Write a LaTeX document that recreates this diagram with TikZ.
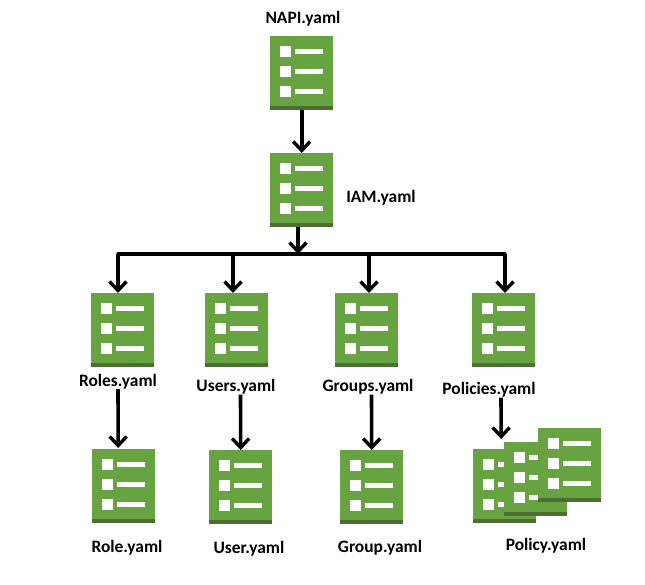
\documentclass[tikz,border=0pt]{standalone}
\usepackage{fontspec}
\setmainfont{Carlito}
\usetikzlibrary{arrows.meta}
\definecolor{iconGreen}{HTML}{67A340}
\definecolor{iconDark}{HTML}{4C6E33}
\tikzset{
  iconbox/.style={anchor=north west,fill=iconGreen,draw=none,inner sep=0pt,minimum width=63pt,minimum height=74pt},
  iconband/.style={fill=iconDark,draw=none},
  iconmark/.style={fill=white,draw=none},
  lbl/.style={font=\bfseries\fontsize{17.4}{19}\selectfont,text=black,inner sep=0pt},
  conn/.style={line width=3.6pt,draw=black,-{Straight Barb[length=9pt,width=17pt,line width=3.4pt]}},
  busline/.style={line width=3.2pt,draw=black,line cap=round}
}
\newcommand{\yamlicon}[3]{%
  \node[iconbox] (#1) at (#2,#3) {};
  \begin{scope}[shift={(#2,#3)}]
    \fill[iconband] (0,70) rectangle (63,74);
    \foreach \yy in {0,20,40}{
      \fill[iconmark] (10,10+\yy) rectangle (21,21+\yy);
      \fill[iconmark] (25,13+\yy) rectangle (53,18+\yy);
    }
  \end{scope}
}
\begin{document}
\begin{tikzpicture}[x=1pt,y=-1pt]
\useasboundingbox (0,0) rectangle (645,585);
\yamlicon{napi}{270}{36}
\yamlicon{iam}{270}{153}
\yamlicon{roles}{91}{293}
\yamlicon{users}{205}{293}
\yamlicon{groups}{335}{293}
\yamlicon{policies}{472}{293}
\yamlicon{role}{92}{449}
\yamlicon{user}{209}{450}
\yamlicon{group}{340}{450}
\yamlicon{policyA}{473}{449}
\yamlicon{policyB}{504}{442}
\yamlicon{policyC}{538}{428}

\node[lbl] (lnapi) at (303,18.5) {NAPI.yaml};
\node[lbl] (liam) at (381,198) {IAM.yaml};
\node[lbl] (lroles) at (118,381.5) {Roles.yaml};
\node[lbl] (lusers) at (236,387) {Users.yaml};
\node[lbl] (lgroups) at (368,387) {Groups.yaml};
\node[lbl] (lpolicies) at (489,390) {Policies.yaml};
\node[lbl] (lrole) at (127,548) {Role.yaml};
\node[lbl] (luser) at (249,549) {User.yaml};
\node[lbl] (lgroup) at (380,548) {Group.yaml};
\node[lbl] (lpolicy) at (546,546) {Policy.yaml};

\coordinate (busL) at (118,254);
\coordinate (busR) at (505,254);
\coordinate (busM) at (298,254);
\coordinate (busU) at (233,254);
\coordinate (busG) at (369,254);

\draw[conn] (napi.south) -- (napi.south |- iam.north);
\draw[busline] (busL) -- (busR);
\draw[conn] (iam.south -| busM) -- (busM);
\draw[conn] (busL) -- (busL |- roles.north);
\draw[conn] (busU) -- (busU |- users.north);
\draw[conn] (busG) -- (busG |- groups.north);
\draw[conn] (busR) -- (busR |- policies.north);
\draw[conn] (lroles.south) -- ([xshift=-5.5pt,yshift=1pt]role.north);
\draw[conn] ([xshift=4.5pt]lusers.south) -- (user.north);
\draw[conn] ([xshift=3.5pt]lgroups.south) -- (group.north);
\draw[conn] ([xshift=12pt]lpolicies.south) -- ([xshift=-3.5pt,yshift=10pt]policyA.north);
\end{tikzpicture}
\end{document}
